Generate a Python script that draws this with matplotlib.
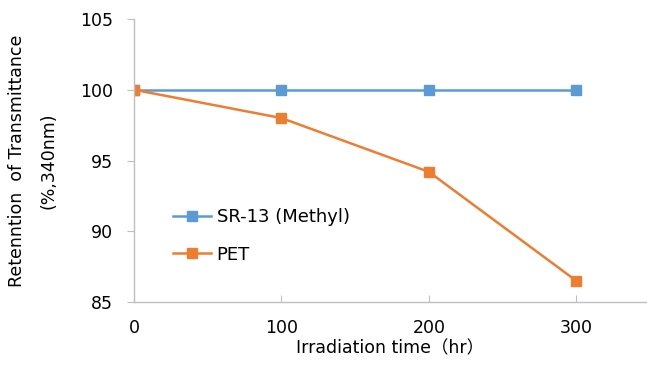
import matplotlib.pyplot as plt

plt.rcParams['font.family'] = ['DejaVu Sans', 'Noto Sans CJK JP']

hours = [0, 100, 200, 300]
sr13 = [100, 100, 100, 100]
pet = [100, 98, 94.2, 86.5]

fig = plt.figure(figsize=(6.47, 3.65), dpi=100)
ax = fig.add_axes([134 / 647, 1 - 302 / 365, 513 / 647, 283 / 365])

ax.plot(hours, sr13, color='#5B9BD5', lw=1.8, marker='s', ms=6.5, label='SR-13 (Methyl)')
ax.plot(hours, pet, color='#ED7D31', lw=1.8, marker='s', ms=6.5, label='PET')

ax.set_xlim(0, 348)
ax.set_ylim(85, 105)
ax.set_xticks([0, 100, 200, 300])
ax.set_yticks([85, 90, 95, 100, 105])

for s in ['top', 'right']:
    ax.spines[s].set_visible(False)
for s in ['left', 'bottom']:
    ax.spines[s].set_color('#BFBFBF')
    ax.spines[s].set_linewidth(1.0)

ax.tick_params(axis='y', direction='out', length=5, color='#BFBFBF', labelsize=12.5, pad=10)
ax.tick_params(axis='x', direction='in', length=5, color='#BFBFBF', labelsize=12.5, pad=12)

ax.set_xlabel('Irradiation time（hr）', fontsize=12.5, labelpad=2)
ax.set_ylabel('Retenntion  of Transmittance\n(%,340nm)', fontsize=12.5, labelpad=16,
              linespacing=2.0)

ax.legend(loc='upper left', bbox_to_anchor=(0.045, 0.39), frameon=False,
          fontsize=13, handlelength=2.1, handletextpad=0.3, labelspacing=1.1)

fig.savefig('out.png', dpi=100)
